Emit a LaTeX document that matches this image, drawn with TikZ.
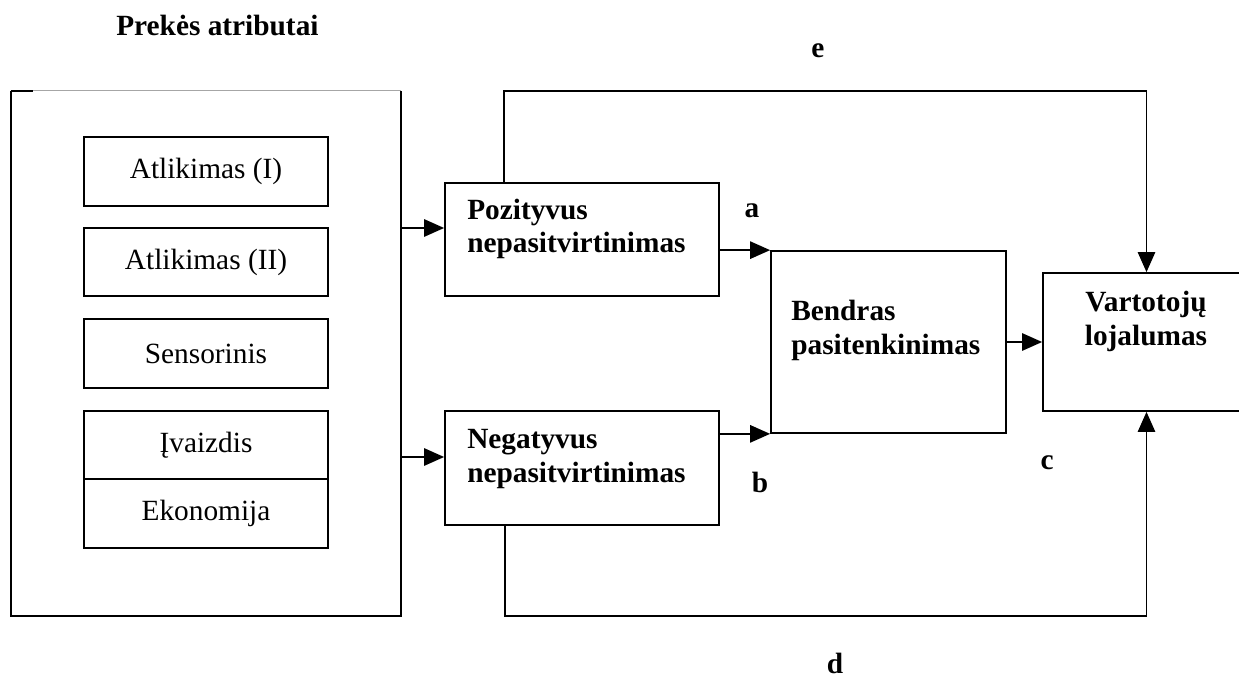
\documentclass[tikz,border=0pt]{standalone}
\usepackage{fontspec}
\setmainfont{Liberation Serif}
\usetikzlibrary{arrows.meta,fit}
\begin{document}
\begin{tikzpicture}[x=0.75pt,y=-0.75pt,
  box/.style={draw, line width=1.3pt, inner sep=0pt},
  frame/.style={draw=none, inner sep=0pt},
  item/.style={font=\fontsize{22}{25}\selectfont, inner sep=0pt},
  head/.style={font=\fontsize{22}{25}\selectfont\bfseries, inner sep=0pt, align=left, anchor=base west},
  tag/.style={font=\fontsize{22}{25}\selectfont\bfseries, inner sep=0pt, anchor=base},
  link/.style={line width=1.3pt},
  arr/.style={line width=1.3pt, -{Triangle[length=15pt,width=13pt]}}]
\useasboundingbox (0,0) rectangle (1239,677);

% product attribute frame
\node[frame, fit={(11,91) (401,616)}] (attr) {};
\draw[line width=1.3pt] (attr.north west) -- (33,91 |- attr.north west);
\draw[gray!70, line width=0.7pt] (33,91 |- attr.north west) -- (attr.north east);
\draw[line width=1.3pt] (attr.north west) -- (attr.south west) -- (attr.south east) -- (attr.north east);
\node[tag, anchor=base west] (title) at (116,36) {Prekės atributai};

% attribute items
\node[box, fit={(84,137) (328,206)}] (a1) {};
\node[item] (a1t) at (a1.center) {Atlikimas (I)};
\node[box, fit={(84,228) (328,296)}] (a2) {};
\node[item] (a2t) at (a2.center) {Atlikimas (II)};
\node[box, fit={(84,319) (328,388)}] (sens) {};
\node[item] (senst) at (sens.center) {Sensorinis};
\node[box, fit={(84,411) (328,479)}] (img) {};
\node[item] (imgt) at (img.center) {Įvaizdis};
\node[box, fit={(84,479) (328,548)}] (eko) {};
\node[item] (ekot) at (eko.center) {Ekonomija};

% disconfirmation, satisfaction and loyalty blocks
% (multi-line text is placed by the baseline of its last line)
\node[box, fit={(445,183) (719,296)}] (pos) {};
\node[head] (post) at (467,253) {Pozityvus\\nepasitvirtinimas};
\node[box, fit={(445,411) (719,525)}] (neg) {};
\node[head] (negt) at (467,482) {Negatyvus\\nepasitvirtinimas};
\node[box, fit={(771,251) (1006,433)}] (bend) {};
\node[head] (bendt) at (791,354) {Bendras\\pasitenkinimas};
\node[box, fit={(1043,273) (1250,411)}] (vart) {};
\node[tag, align=center] (vartt) at (1146,345) {Vartotojų\\lojalumas};

% connectors
\draw[arr] (attr.east |- 0,228) -- (pos.west |- 0,228);
\draw[arr] (attr.east |- 0,457) -- (neg.west |- 0,457);
\draw[arr] (pos.east |- bend.north west) -- (bend.north west);
\draw[arr] (neg.east |- bend.south west) -- (bend.south west);
\draw[arr] (bend.east) -- (vart.west |- bend.east);
\coordinate (eup) at (504,91);
\coordinate (dlow) at (505,616);
\draw[arr] (pos.north -| eup) -- (eup) -- (eup -| vart.north) -- (vart.north);
\draw[arr] (neg.south -| dlow) -- (dlow) -- (dlow -| vart.south) -- (vart.south);

% path labels
\node[tag] (le) at (818,58) {e};
\node[tag] (la) at (752,218) {a};
\node[tag] (lb) at (760,492) {b};
\node[tag] (lc) at (1047,469) {c};
\node[tag] (ld) at (835,673) {d};
\end{tikzpicture}
\end{document}
